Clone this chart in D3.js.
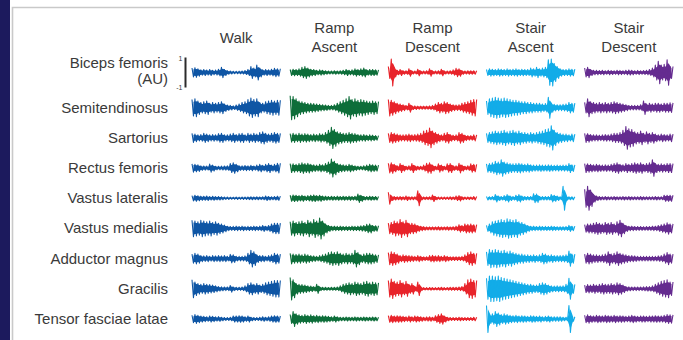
<!DOCTYPE html>
<html>
<head>
<meta charset="utf-8">
<script src="https://cdn.jsdelivr.net/npm/d3@7/dist/d3.min.js"></script>
<style>
  html, body { margin: 0; padding: 0; background: #fff; }
  svg { display: block; }
  text { font-family: "Liberation Sans", Arial, sans-serif; fill: #3a3a3a; }
</style>
</head>
<body>
<svg id="chart" width="683" height="340"></svg>
<script>
// Gait conditions (columns) and their header lines
const conditions = ["Walk", "Ramp Ascent", "Ramp Descent", "Stair Ascent", "Stair Descent"];
const conditionHeaders = [["Walk"], ["Ramp", "Ascent"], ["Ramp", "Descent"], ["Stair", "Ascent"], ["Stair", "Descent"]];

// Recorded muscles (rows)
const muscles = ["Biceps femoris", "Semitendinosus", "Sartorius", "Rectus femoris", "Vastus lateralis",
  "Vastus medialis", "Adductor magnus", "Gracilis", "Tensor fasciae latae"];

// Scale-bar tick labels (AU)
const scaleTicks = [1, -1];

// EMG amplitude envelopes (AU), one row per muscle, sampled evenly over one stride
const walkEnvelope = [
  [.30,.32,.25,.18,.20,.17,.20,.15,.17,.22,.35,.20,.12,.10,.08,.08,.09,.10,.13,.20,.40,.30,.50,.30,.18,.20,.18,.22,.28,.25],
  [.55,.60,.45,.35,.40,.45,.30,.35,.30,.35,.40,.25,.18,.15,.12,.18,.25,.35,.40,.55,.65,.55,.60,.35,.30,.40,.45,.50,.45,.50],
  [.30,.25,.20,.22,.30,.25,.20,.22,.20,.28,.30,.20,.20,.25,.30,.22,.28,.30,.20,.30,.25,.30,.25,.35,.40,.30,.25,.30,.35,.30],
  [.28,.25,.22,.15,.14,.13,.27,.20,.12,.12,.13,.14,.15,.30,.35,.25,.15,.15,.17,.15,.18,.14,.20,.25,.18,.25,.30,.20,.25,.32],
  [.18,.20,.17,.14,.13,.15,.12,.13,.11,.12,.10,.08,.08,.07,.07,.08,.07,.08,.08,.09,.10,.09,.10,.09,.10,.15,.12,.10,.12,.14],
  [.55,.50,.45,.55,.50,.45,.50,.40,.45,.35,.30,.22,.15,.13,.14,.15,.13,.15,.12,.14,.13,.15,.13,.15,.20,.15,.20,.30,.35,.35],
  [.30,.35,.30,.20,.18,.20,.16,.20,.18,.20,.18,.20,.15,.28,.25,.15,.15,.15,.18,.35,.55,.45,.25,.20,.20,.15,.20,.25,.35,.30],
  [.60,.45,.35,.30,.35,.30,.28,.25,.20,.15,.13,.12,.12,.22,.12,.10,.10,.12,.20,.35,.40,.30,.35,.25,.30,.40,.45,.50,.55,.55],
  [.25,.30,.25,.20,.18,.15,.20,.18,.14,.16,.12,.10,.10,.12,.20,.20,.22,.20,.15,.20,.12,.10,.10,.12,.15,.12,.15,.20,.22,.20]
];

const rampAscentEnvelope = [
  [.20,.22,.20,.25,.35,.40,.30,.22,.20,.15,.18,.15,.12,.10,.10,.12,.10,.12,.15,.20,.15,.18,.25,.20,.25,.30,.18,.20,.20,.18],
  [.80,.75,.60,.45,.40,.35,.30,.30,.28,.25,.22,.20,.18,.15,.15,.20,.30,.40,.50,.60,.75,.55,.60,.50,.55,.50,.45,.40,.45,.40],
  [.28,.30,.25,.30,.25,.28,.25,.22,.25,.22,.28,.25,.35,.50,.70,.55,.40,.35,.30,.30,.35,.30,.28,.22,.20,.22,.18,.20,.18,.15],
  [.30,.28,.25,.30,.35,.30,.32,.25,.22,.20,.25,.22,.30,.40,.60,.45,.30,.25,.22,.20,.25,.20,.15,.12,.12,.15,.20,.25,.22,.20],
  [.20,.22,.20,.18,.20,.15,.18,.20,.22,.18,.20,.15,.14,.12,.13,.12,.14,.12,.13,.12,.14,.12,.13,.28,.20,.12,.12,.13,.12,.12],
  [.45,.50,.40,.45,.50,.40,.55,.45,.60,.50,.70,.50,.30,.20,.15,.15,.14,.15,.13,.14,.13,.15,.14,.15,.17,.20,.28,.30,.20,.18],
  [.35,.30,.28,.30,.25,.30,.25,.20,.18,.15,.20,.25,.30,.40,.45,.40,.45,.35,.30,.35,.30,.35,.55,.40,.25,.30,.35,.35,.30,.25],
  [.75,.60,.35,.30,.28,.25,.20,.18,.15,.30,.12,.10,.10,.09,.10,.10,.12,.20,.30,.35,.40,.35,.45,.40,.35,.45,.50,.40,.45,.40],
  [.30,.50,.35,.28,.25,.30,.25,.28,.22,.25,.20,.22,.20,.18,.15,.20,.14,.12,.12,.13,.12,.12,.14,.12,.12,.13,.12,.12,.13,.12]
];

const rampDescentEnvelope = [
  [.40,.90,.30,.15,.20,.12,.12,.25,.10,.10,.22,.10,.10,.12,.25,.10,.10,.12,.22,.10,.10,.12,.18,.28,.25,.12,.10,.12,.12,.12],
  [.55,.50,.40,.30,.25,.20,.15,.30,.12,.12,.10,.10,.10,.10,.12,.15,.25,.35,.30,.40,.35,.25,.20,.18,.20,.30,.35,.40,.50,.55],
  [.30,.35,.30,.25,.20,.20,.22,.25,.20,.22,.25,.30,.45,.50,.65,.45,.35,.25,.20,.30,.35,.22,.18,.20,.35,.30,.18,.15,.15,.20],
  [.32,.35,.25,.15,.30,.20,.12,.15,.30,.15,.12,.12,.20,.32,.35,.20,.12,.28,.20,.12,.28,.30,.15,.15,.32,.20,.12,.15,.28,.25],
  [.40,.15,.12,.10,.12,.10,.15,.10,.10,.10,.50,.10,.09,.09,.10,.22,.10,.08,.08,.08,.08,.10,.09,.15,.18,.10,.08,.09,.08,.12],
  [.35,.40,.50,.45,.60,.45,.55,.35,.35,.30,.20,.15,.12,.10,.10,.10,.10,.12,.10,.10,.12,.10,.12,.15,.25,.20,.30,.28,.30,.25],
  [.40,.45,.40,.30,.20,.25,.22,.20,.18,.15,.20,.15,.12,.12,.20,.22,.18,.20,.15,.20,.15,.12,.12,.12,.12,.15,.25,.40,.45,.35],
  [.55,.65,.50,.45,.55,.40,.50,.30,.35,.15,.45,.10,.08,.08,.09,.08,.08,.09,.10,.08,.09,.10,.10,.10,.12,.15,.35,.60,.65,.55],
  [.22,.25,.20,.22,.20,.18,.15,.20,.15,.20,.18,.15,.12,.14,.15,.12,.22,.30,.35,.20,.12,.10,.10,.10,.12,.10,.10,.10,.10,.12]
];

const stairAscentEnvelope = [
  [.20,.25,.22,.20,.25,.22,.20,.25,.20,.22,.25,.20,.22,.20,.20,.30,.25,.35,.25,.30,.35,.85,.90,.60,.40,.25,.20,.20,.25,.22],
  [.45,.60,.65,.70,.65,.60,.65,.60,.55,.50,.50,.45,.40,.40,.35,.35,.30,.30,.30,.25,.28,.70,.30,.22,.20,.20,.22,.25,.35,.30],
  [.30,.35,.40,.45,.40,.45,.50,.40,.45,.50,.40,.45,.35,.35,.30,.35,.30,.35,.40,.45,.55,.60,.80,.50,.35,.30,.25,.25,.20,.25],
  [.28,.30,.35,.45,.40,.55,.40,.35,.30,.28,.30,.32,.28,.25,.28,.22,.20,.20,.22,.20,.20,.22,.20,.18,.20,.18,.20,.20,.30,.22],
  [.12,.10,.12,.25,.15,.12,.18,.25,.15,.12,.20,.25,.15,.12,.12,.12,.30,.28,.12,.12,.12,.12,.25,.20,.15,.10,.80,.12,.10,.10],
  [.20,.30,.45,.50,.55,.60,.55,.65,.60,.55,.60,.45,.40,.30,.20,.15,.15,.13,.15,.13,.14,.13,.15,.13,.12,.12,.12,.13,.20,.15],
  [.45,.60,.55,.60,.55,.50,.55,.45,.50,.40,.35,.30,.30,.25,.25,.22,.25,.20,.25,.35,.30,.22,.25,.20,.20,.20,.22,.25,.50,.30],
  [.70,.85,.85,.80,.85,.75,.70,.65,.60,.55,.50,.45,.40,.35,.30,.30,.25,.25,.35,.40,.35,.25,.20,.18,.20,.18,.20,.30,.70,.30],
  [.90,.30,.35,.50,.40,.30,.35,.30,.25,.22,.25,.20,.22,.20,.18,.22,.20,.18,.20,.15,.18,.20,.15,.15,.15,.15,.12,.12,.90,.15]
];

const stairDescentEnvelope = [
  [.30,.35,.20,.15,.15,.13,.15,.12,.15,.13,.12,.15,.14,.12,.15,.17,.15,.12,.14,.12,.13,.15,.20,.30,.50,.75,.50,.55,.85,.40],
  [.35,.60,.40,.35,.30,.35,.30,.35,.30,.35,.40,.35,.30,.25,.20,.15,.15,.15,.15,.20,.45,.25,.30,.25,.30,.30,.25,.30,.30,.32],
  [.30,.28,.22,.20,.20,.18,.20,.22,.20,.25,.30,.30,.35,.50,.75,.60,.55,.40,.35,.45,.30,.40,.30,.35,.25,.20,.25,.22,.20,.25],
  [.30,.28,.25,.22,.25,.22,.20,.22,.20,.25,.30,.35,.25,.22,.30,.25,.30,.35,.30,.35,.25,.30,.35,.55,.30,.25,.28,.25,.30,.30],
  [.60,.80,.55,.25,.15,.12,.10,.12,.10,.10,.12,.10,.10,.12,.10,.12,.10,.10,.10,.12,.10,.10,.10,.10,.12,.10,.10,.20,.20,.20],
  [.25,.30,.30,.35,.40,.35,.30,.40,.35,.40,.30,.45,.55,.35,.20,.15,.15,.13,.13,.13,.12,.13,.13,.15,.15,.20,.25,.30,.38,.30],
  [.30,.35,.30,.25,.25,.22,.25,.30,.45,.30,.35,.45,.35,.30,.25,.20,.20,.18,.15,.15,.15,.15,.15,.15,.15,.18,.20,.30,.40,.30],
  [.25,.28,.25,.30,.25,.30,.35,.30,.30,.35,.30,.40,.35,.25,.15,.13,.12,.12,.12,.12,.13,.15,.15,.20,.30,.40,.50,.55,.60,.45],
  [.25,.28,.22,.20,.25,.22,.20,.25,.22,.20,.25,.20,.22,.20,.18,.20,.25,.20,.18,.20,.20,.18,.20,.20,.22,.20,.20,.25,.30,.28]
];

const envelopes = [walkEnvelope, rampAscentEnvelope, rampDescentEnvelope, stairAscentEnvelope, stairDescentEnvelope];

// Trace colour per condition
const conditionColor = d3.scaleOrdinal()
  .domain(conditions)
  .range(["#0f56a5", "#0e6e3a", "#e8242b", "#12ace8", "#652c90"]);

const W = 683, H = 340;
const svg = d3.select("#chart");

// Page frame: navy side band and light rule
svg.append("rect").attr("x", 0).attr("y", 0).attr("width", 10).attr("height", H).attr("fill", "#1c1a5d");
svg.append("path")
  .attr("d", `M12.5,${H} V7.5 H${W}`)
  .attr("fill", "none").attr("stroke", "#c9c9c9").attr("stroke-width", 1.6);

// Layout scales
const x = d3.scaleBand().domain(conditions).range([192, 673]).paddingInner(0.1);
const y = d3.scalePoint().domain(muscles).range([77.5, 319]);
const firstRowLift = 5; // first row sits higher to fit its two-line label
const rowY = m => y(m) - (m === muscles[0] ? firstRowLift : 0);

// Amplitude scale: 1 AU = 15 px
const amp = d3.scaleLinear().domain([-1, 1]).range([15, -15]);

// Column headers
conditions.forEach((c, ci) => {
  const lines = conditionHeaders[ci];
  const cx = x(c) + x.bandwidth() / 2;
  const t = svg.append("text").attr("text-anchor", "middle").style("font-size", "15px");
  if (lines.length === 1) {
    t.append("tspan").attr("x", cx).attr("y", 42.5).text(lines[0]);
  } else {
    t.append("tspan").attr("x", cx).attr("y", 33).text(lines[0]);
    t.append("tspan").attr("x", cx).attr("y", 52).text(lines[1]);
  }
});

// Row labels
muscles.forEach((m, mi) => {
  const t = svg.append("text").attr("x", 168).attr("text-anchor", "end").style("font-size", "15px");
  if (mi === 0) {
    t.append("tspan").attr("x", 168).attr("y", rowY(m) - 5).text(m);
    t.append("tspan").attr("x", 168).attr("y", rowY(m) + 11.5).text("(AU)");
  } else {
    t.attr("y", rowY(m) + 5).text(m);
  }
});

// Amplitude scale bar beside the first row
const barG = svg.append("g").attr("transform", `translate(185.5,${rowY(muscles[0])})`);
barG.append("line")
  .attr("y1", amp(1)).attr("y2", amp(-1))
  .attr("stroke", "#2b2b2b").attr("stroke-width", 2);
barG.selectAll("text.tick")
  .data(scaleTicks)
  .join("text")
  .attr("class", "tick")
  .attr("x", -3)
  .attr("y", d => amp(d) + (d > 0 ? 3 : 2))
  .attr("text-anchor", "end")
  .style("font-size", "7px")
  .text(d => d);

// EMG traces: each envelope sample is drawn as one oscillation (+a then -a),
// over a solid core so the trace reads as a dense raw signal
conditions.forEach((c, ci) => {
  const g = svg.append("g").attr("transform", `translate(${x(c)},0)`);
  muscles.forEach((m, mi) => {
    const env = envelopes[ci][mi];
    const n = env.length;
    const sx = d3.scaleLinear().domain([0, n]).range([0, x.bandwidth()]);
    const pts = env.flatMap((a, i) => [[sx(i), amp(a)], [sx(i + 0.5), amp(-a)]]);
    pts.push([x.bandwidth(), amp(env[n - 1])]);
    const row = g.append("g").attr("transform", `translate(0,${rowY(m)})`);
    const core = d3.area()
      .x((d, i) => sx(i + 0.5))
      .y0(d => amp(-d * 0.72))
      .y1(d => amp(d * 0.72));
    row.append("path")
      .attr("d", core(env))
      .attr("fill", conditionColor(c));
    row.append("path")
      .attr("d", d3.line()(pts))
      .attr("fill", "none")
      .attr("stroke", conditionColor(c))
      .attr("stroke-width", 1.1)
      .attr("stroke-linejoin", "round");
  });
});
</script>
</body>
</html>
